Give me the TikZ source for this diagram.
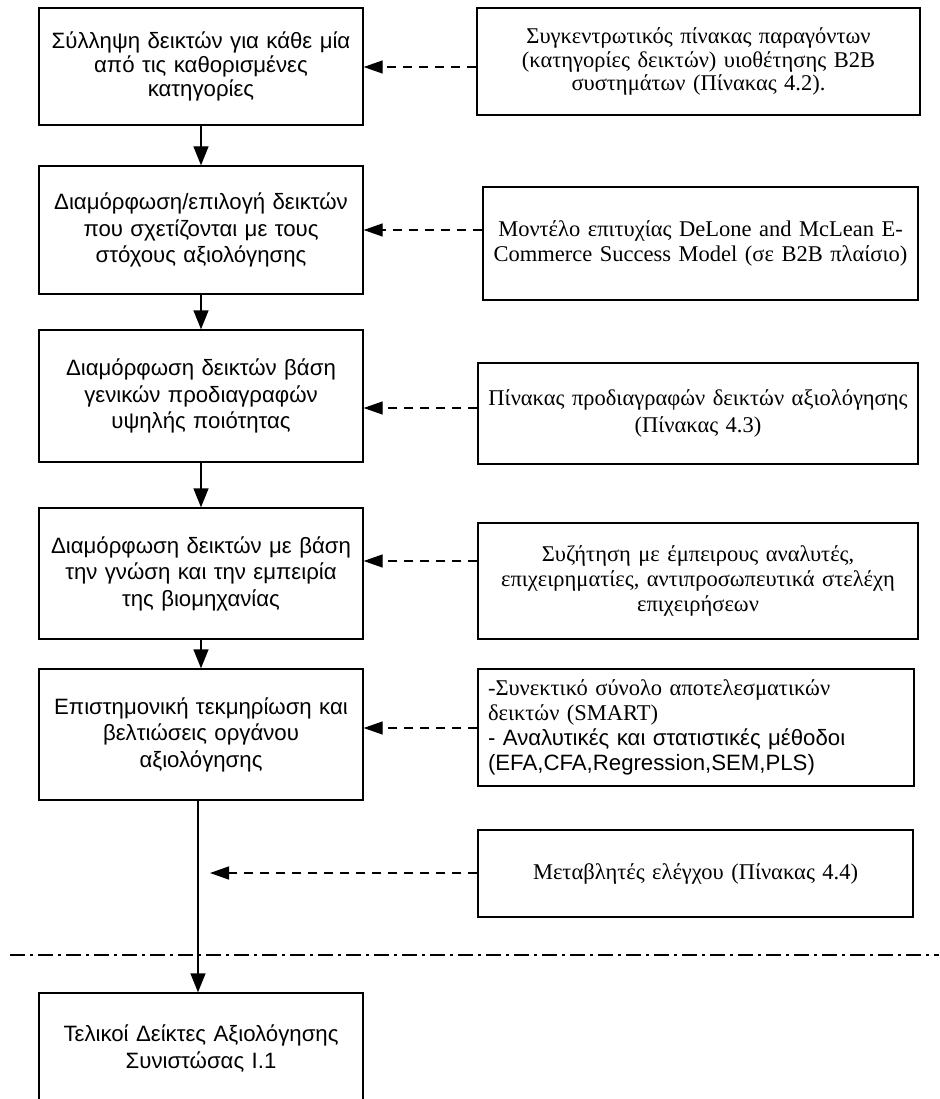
\documentclass[tikz,border=0pt]{standalone}
\usepackage{fontspec}
\setmainfont{Liberation Serif}
\setsansfont{Liberation Sans}
\usetikzlibrary{arrows.meta,calc}
\begin{document}
\begin{tikzpicture}[x=1pt,y=-1pt,
  stepbox/.style={draw,line width=1.4pt,minimum width=324pt,text width=322pt,
    align=center,inner sep=0pt,font=\sffamily\fontsize{22.2}{26.5}\selectfont},
  srcbox/.style={draw,line width=1.4pt,align=center,inner sep=0pt,
    font=\fontsize{22.5}{25}\selectfont},
  flow/.style={line width=1.4pt,-{Triangle[length=19pt,width=15pt]}},
  feed/.style={line width=1.4pt,dash pattern=on 9pt off 7pt,
    -{Triangle[length=19pt,width=13pt]}},
  sep/.style={line width=1.4pt,dash pattern=on 15pt off 5pt on 3pt off 5pt},
]
\clip (0,0) rectangle (939,1099);
\fill[white] (0,0) rectangle (939,1099);

% process steps (left column)
\node[stepbox,minimum height=117pt,font=\sffamily\fontsize{22.2}{24}\selectfont] (l1) at (201,66.5)
  {Σύλληψη δεικτών για κάθε μία\\από τις καθορισμένες\\κατηγορίες};
\node[stepbox,minimum height=128pt] (l2) at (201,230)
  {Διαμόρφωση/επιλογή δεικτών\\που σχετίζονται με τους\\στόχους αξιολόγησης};
\node[stepbox,minimum height=132pt] (l3) at (201,396)
  {Διαμόρφωση δεικτών βάση\\γενικών προδιαγραφών\\υψηλής ποιότητας};
\node[stepbox,minimum height=131pt] (l4) at (201,573.5)
  {Διαμόρφωση δεικτών με βάση\\την γνώση και την εμπειρία\\της βιομηχανίας};
\node[stepbox,minimum height=131pt] (l5) at (201,734.5)
  {Επιστημονική τεκμηρίωση και\\βελτιώσεις οργάνου\\αξιολόγησης};
\node[stepbox,minimum height=111pt] (l6) at (201,1048.5)
  {Τελικοί Δείκτες Αξιολόγησης\\Συνιστώσας I.1};

% sources (right column)
\node[srcbox,minimum width=443pt,text width=441pt,minimum height=107pt,
  font=\fontsize{22.5}{23.5}\selectfont] (r1) at (698.5,61.5)
  {Συγκεντρωτικός πίνακας παραγόντων\\(κατηγορίες δεικτών) υιοθέτησης B2B\\συστημάτων (Πίνακας 4.2).};
\node[srcbox,minimum width=435pt,text width=433pt,minimum height=113pt] (r2) at (700.5,243.5)
  {Μοντέλο επιτυχίας DeLone and McLean E-\\Commerce Success Model (σε B2B πλαίσιο)};
\node[srcbox,minimum width=440pt,text width=438pt,minimum height=101pt,
  font=\fontsize{22.5}{26.5}\selectfont] (r3) at (698,413.5)
  {Πίνακας προδιαγραφών δεικτών αξιολόγησης\\(Πίνακας 4.3)};
\node[srcbox,minimum width=440pt,text width=438pt,minimum height=116pt] (r4) at (698,581)
  {Συζήτηση με έμπειρους αναλυτές,\\επιχειρηματίες, αντιπροσωπευτικά στελέχη\\επιχειρήσεων};
\node[srcbox,align=left,inner xsep=10pt,minimum width=436pt,text width=416pt,minimum height=117pt] (r5) at (696,727.5)
  {-Συνεκτικό σύνολο αποτελεσματικών\\δεικτών (SMART)\\{\sffamily\fontsize{22.2}{26}\selectfont - Αναλυτικές και στατιστικές μέθοδοι}\\{\sffamily\fontsize{22.2}{26}\selectfont (EFA,CFA,Regression,SEM,PLS)}};
\node[srcbox,minimum width=435pt,text width=433pt,minimum height=87pt] (r6) at (695.5,873.5)
  {Μεταβλητές ελέγχου (Πίνακας 4.4)};

% main flow
\draw[flow] (l1) -- (l2);
\draw[flow] (l2) -- (l3);
\draw[flow] (l3) -- (l4);
\draw[flow] (l4) -- (l5);
\draw[flow] ($(l5.south)+(-3,0)$) -- ($(l6.north)+(-3,0)$);

% inputs
\coordinate (y1) at (0,67);
\coordinate (y2) at (0,230);
\coordinate (y3) at (0,408);
\coordinate (y4) at (0,561);
\coordinate (y5) at (0,728);
\coordinate (m6) at (210,873);
\draw[feed] (r1.west |- y1) -- (l1.east |- y1);
\draw[feed] (r2.west |- y2) -- (l2.east |- y2);
\draw[feed] (r3.west |- y3) -- (l3.east |- y3);
\draw[feed] (r4.west |- y4) -- (l4.east |- y4);
\draw[feed] (r5.west |- y5) -- (l5.east |- y5);
\draw[feed] (r6.west |- m6) -- (m6);

% boundary line
\coordinate (dl) at (10,955);
\coordinate (dr) at (939,955);
\draw[sep] (dl) -- (dr);
\end{tikzpicture}
\end{document}
